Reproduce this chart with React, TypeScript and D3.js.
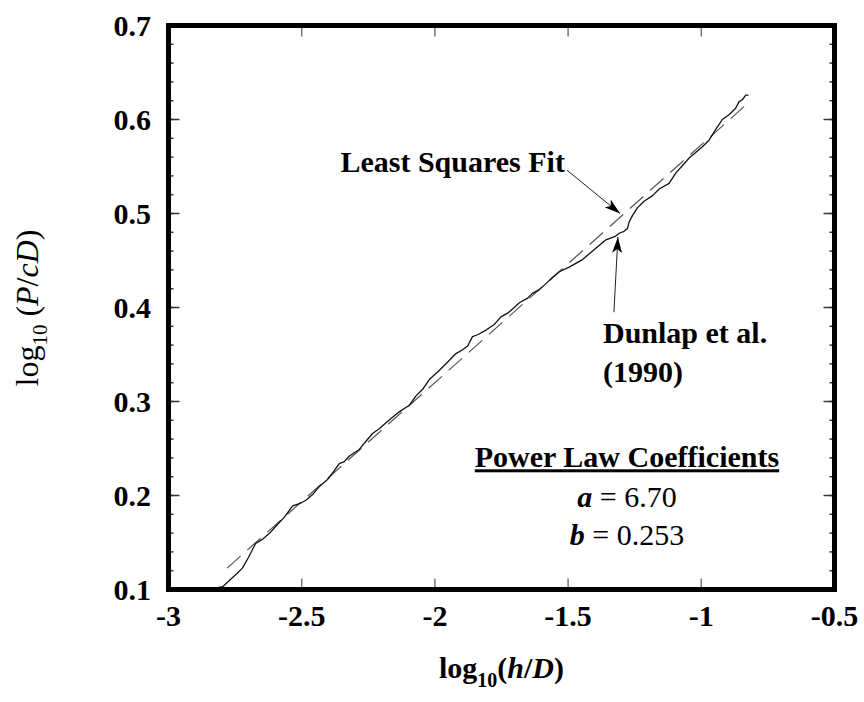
import * as d3 from "d3"

const logHD = [-2.816, -2.797, -2.743, -2.722, -2.7, -2.673, -2.649, -2.62, -2.598, -2.565, -2.534, -2.503, -2.484, -2.459, -2.436, -2.403, -2.384, -2.359, -2.34, -2.321, -2.284, -2.258, -2.234, -2.209, -2.177, -2.134, -2.096, -2.071, -2.046, -2.019, -1.984, -1.952, -1.921, -1.896, -1.877, -1.859, -1.84, -1.808, -1.777, -1.752, -1.727, -1.702, -1.683, -1.652, -1.634, -1.608, -1.577, -1.559, -1.533, -1.496, -1.446, -1.396, -1.358, -1.321, -1.308, -1.29, -1.277, -1.271, -1.258, -1.24, -1.215, -1.183, -1.158, -1.121, -1.096, -1.058, -1.046, -1.021, -0.996, -0.971, -0.958, -0.94, -0.921, -0.896, -0.871, -0.858, -0.846, -0.833, -0.823]
const logPcD = [0.102, 0.103, 0.117, 0.123, 0.134, 0.149, 0.153, 0.16, 0.167, 0.177, 0.189, 0.192, 0.195, 0.201, 0.209, 0.217, 0.224, 0.234, 0.236, 0.242, 0.249, 0.258, 0.266, 0.271, 0.279, 0.289, 0.296, 0.306, 0.313, 0.324, 0.333, 0.342, 0.351, 0.355, 0.359, 0.369, 0.371, 0.376, 0.382, 0.39, 0.394, 0.4, 0.405, 0.41, 0.415, 0.419, 0.427, 0.432, 0.438, 0.443, 0.451, 0.463, 0.472, 0.476, 0.479, 0.481, 0.484, 0.491, 0.498, 0.506, 0.513, 0.519, 0.526, 0.532, 0.543, 0.555, 0.559, 0.565, 0.571, 0.578, 0.584, 0.592, 0.6, 0.605, 0.612, 0.619, 0.621, 0.626, 0.626]

// power law P/cD = a (h/D)^b
const coefA = 6.7
const coefB = 0.253
const fitRange = [-2.78, -0.83]

const xTicks = [-3, -2.5, -2, -1.5, -1, -0.5]
const yTicks = [0.1, 0.2, 0.3, 0.4, 0.5, 0.6, 0.7]
const yMinorTicks = d3.range(0.12, 0.7, 0.02)

const W = 864
const H = 702
const x0 = 168.5
const x1 = 834.5
const y0 = 589.5
const y1 = 25.5
const serif = "'Liberation Serif', 'Times New Roman', serif"

export default function App() {
  const x = d3.scaleLinear().domain([-3, -0.5]).range([x0, x1])
  const y = d3.scaleLinear().domain([0.1, 0.7]).range([y0, y1])

  const pts: [number, number][] = logHD.map((v, i) => [v, logPcD[i]])
  const line = d3
    .line<[number, number]>()
    .x((d) => x(d[0]))
    .y((d) => y(d[1]))

  const fitPts: [number, number][] = fitRange.map((v) => [v, Math.log10(coefA) + coefB * v])

  // annotation anchors in data units
  const lsqText = { x: -1.512, y: 0.5445 }
  const lsqArrow = { from: [-1.504, 0.546], to: [-1.305, 0.5] }
  const dunText = { x: -1.369, y: 0.362, y2: 0.3207 }
  const dunArrow = { from: [-1.328, 0.395], to: [-1.313, 0.475] }
  const coefX = -1.279
  const coefY = [0.23, 0.1878, 0.1473]

  const majorLen = 11
  const minorLen = 5

  return (
    <svg
      width={W}
      height={H}
      style={{ position: "absolute", left: 0, top: 0, background: "#fff" }}
      fontFamily={serif}
    >
      <defs>
        <marker
          id="arrowHead"
          viewBox="0 0 16 10"
          refX="16"
          refY="5"
          markerWidth="16"
          markerHeight="10"
          markerUnits="userSpaceOnUse"
          orient="auto"
        >
          <path d="M0,0 L16,5 L0,10 L4,5 Z" fill="#000" />
        </marker>
      </defs>

      {/* y ticks, both sides */}
      {yMinorTicks.map((t) => (
        <g key={"ym" + t} stroke="#333" strokeWidth={1.5}>
          <line x1={x0} x2={x0 + minorLen} y1={y(t)} y2={y(t)} />
          <line x1={x1} x2={x1 - minorLen} y1={y(t)} y2={y(t)} />
        </g>
      ))}
      {yTicks.map((t) => (
        <g key={"yM" + t} stroke="#333" strokeWidth={1.5}>
          <line x1={x0} x2={x0 + majorLen} y1={y(t)} y2={y(t)} />
          <line x1={x1} x2={x1 - majorLen} y1={y(t)} y2={y(t)} />
        </g>
      ))}
      {/* x ticks, top and bottom */}
      {xTicks.map((t) => (
        <g key={"xM" + t} stroke="#777" strokeWidth={1.5}>
          <line x1={x(t)} x2={x(t)} y1={y0} y2={y0 - majorLen} />
          <line x1={x(t)} x2={x(t)} y1={y1} y2={y1 + majorLen} />
        </g>
      ))}

      {/* fitted power law */}
      <path
        d={line(fitPts) ?? ""}
        fill="none"
        stroke="#555"
        strokeWidth={1.2}
        strokeDasharray="18,9"
      />
      {/* measured curve */}
      <path d={line(pts) ?? ""} fill="none" stroke="#111" strokeWidth={1.3} strokeLinejoin="round" />

      {/* frame */}
      <rect x={x0} y={y1} width={x1 - x0} height={y0 - y1} fill="none" stroke="#000" strokeWidth={5} />

      {/* tick labels */}
      {yTicks.map((t) => (
        <text key={"yl" + t} x={151} y={y(t) + 10} textAnchor="end" fontSize={30} fontWeight="bold">
          {t.toFixed(1)}
        </text>
      ))}
      {xTicks.map((t) => (
        <text key={"xl" + t} x={x(t)} y={626} textAnchor="middle" fontSize={30} fontWeight="bold">
          {t}
        </text>
      ))}

      {/* axis titles */}
      <text x={(x0 + x1) / 2} y={678} textAnchor="middle" fontSize={30} fontWeight="bold">
        log<tspan fontSize={20} dy={9}>10</tspan>
        <tspan dy={-9}>(</tspan>
        <tspan fontStyle="italic">h</tspan>/<tspan fontStyle="italic">D</tspan>)
      </text>
      <text transform="translate(38,308) rotate(-90)" textAnchor="middle" fontSize={32}>
        log<tspan fontSize={21} dy={9}>10</tspan>
        <tspan dy={-9}> (</tspan>
        <tspan fontStyle="italic">P</tspan>/<tspan fontStyle="italic">cD</tspan>)
      </text>

      {/* annotations */}
      <text x={x(lsqText.x)} y={y(lsqText.y)} textAnchor="end" fontSize={30} fontWeight="bold">
        Least Squares Fit
      </text>
      <line
        x1={x(lsqArrow.from[0])}
        y1={y(lsqArrow.from[1])}
        x2={x(lsqArrow.to[0])}
        y2={y(lsqArrow.to[1])}
        stroke="#222"
        strokeWidth={1}
        markerEnd="url(#arrowHead)"
      />
      <text x={x(dunText.x)} y={y(dunText.y)} fontSize={30} fontWeight="bold">
        Dunlap et al.
      </text>
      <text x={x(dunText.x)} y={y(dunText.y2)} fontSize={30} fontWeight="bold">
        (1990)
      </text>
      <line
        x1={x(dunArrow.from[0])}
        y1={y(dunArrow.from[1])}
        x2={x(dunArrow.to[0])}
        y2={y(dunArrow.to[1])}
        stroke="#222"
        strokeWidth={1}
        markerEnd="url(#arrowHead)"
      />

      <text x={x(coefX)} y={y(coefY[0])} textAnchor="middle" fontSize={30} fontWeight="bold" textDecoration="underline">
        Power Law Coefficients
      </text>
      <text x={x(coefX)} y={y(coefY[1])} textAnchor="middle" fontSize={30}>
        <tspan fontStyle="italic" fontWeight="bold">a</tspan> = {coefA.toFixed(2)}
      </text>
      <text x={x(coefX)} y={y(coefY[2])} textAnchor="middle" fontSize={30}>
        <tspan fontStyle="italic" fontWeight="bold">b</tspan> = {coefB.toFixed(3)}
      </text>
    </svg>
  )
}
